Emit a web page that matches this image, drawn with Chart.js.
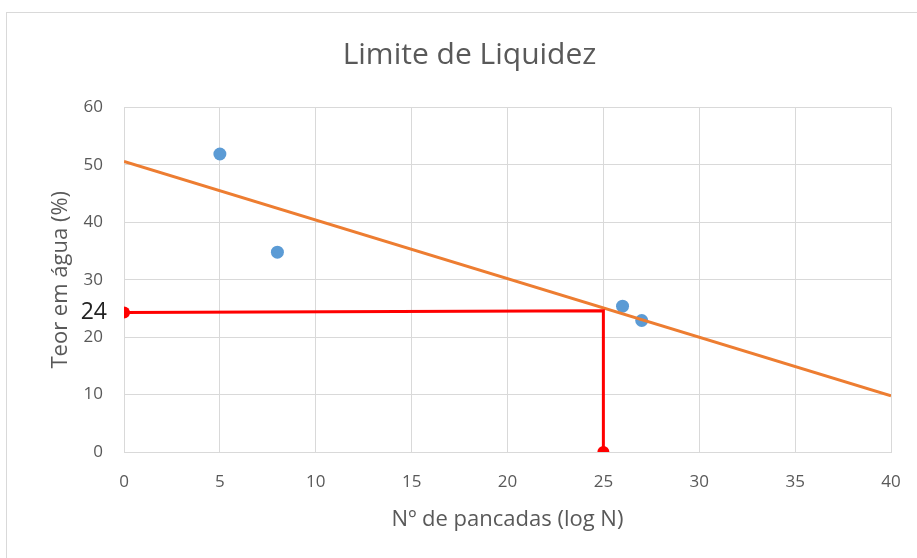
<!DOCTYPE html>
<html>
<head>
<meta charset="utf-8">
<script src="https://cdn.jsdelivr.net/npm/chart.js@4/dist/chart.umd.min.js"></script>
<style>
html,body{margin:0;padding:0;background:#fff;}
#wrap{position:relative;width:917px;height:558px;}
</style>
</head>
<body>
<div id="wrap"><canvas id="c" width="917" height="558"></canvas></div>
<script>
const chartTitle = "Limite de Liquidez";
const xAxisTitle = "Nº de pancadas (log N)";
const yAxisTitle = "Teor em água (%)";

const pointsX = [5, 8, 26, 27];
const pointsY = [51.9, 34.8, 25.4, 22.9];

const trendX = [0, 40];
const trendY = [50.6, 9.8];

const guideX = [0, 25, 25];
const guideY = [24.3, 24.6, 0];
const guideMarkerRadius = [6, 0, 6];

const guideLabel = "24";
const guideLabelValue = 24.3;

const xTicks = {min: 0, max: 40, step: 5};
const yTicks = {min: 0, max: 60, step: 10};

const FONT = "'Open Sans', 'Noto Sans', sans-serif";
const GRID = '#d9d9d9';
const TXT = '#595959';

const toXY = (xs, ys) => xs.map((x, i) => ({x: x, y: ys[i]}));

const borderPlugin = {
  id: 'frame',
  beforeDraw(chart) {
    const ctx = chart.ctx;
    ctx.save();
    ctx.fillStyle = '#fff';
    ctx.fillRect(0, 0, chart.width, chart.height);
    ctx.strokeStyle = '#d9d9d9';
    ctx.lineWidth = 1;
    ctx.strokeRect(6.5, 12.5, chart.width + 20, chart.height + 20);
    ctx.restore();
  }
};

const labelPlugin = {
  id: 'guideLabel',
  afterDraw(chart) {
    const ctx = chart.ctx;
    const y = chart.scales.y.getPixelForValue(guideLabelValue);
    ctx.save();
    ctx.font = "23px " + FONT;
    ctx.fillStyle = '#222';
    ctx.textAlign = 'right';
    ctx.textBaseline = 'middle';
    ctx.fillText(guideLabel, 107, y);
    ctx.restore();
  }
};

new Chart(document.getElementById('c'), {
  type: 'scatter',
  data: {
    datasets: [
      {
        label: 'Guia',
        data: toXY(guideX, guideY),
        showLine: true,
        borderColor: '#ff0000',
        backgroundColor: '#ff0000',
        borderWidth: 3,
        pointRadius: guideMarkerRadius,
        pointBorderWidth: 0,
        order: 0
      },
      {
        label: 'Tendência',
        data: toXY(trendX, trendY),
        showLine: true,
        borderColor: '#ed7d31',
        borderWidth: 3,
        pointRadius: 0,
        order: 1
      },
      {
        label: 'Ensaios',
        data: toXY(pointsX, pointsY),
        backgroundColor: '#5b9bd5',
        borderColor: '#5b9bd5',
        pointRadius: 6.5,
        pointBorderWidth: 0,
        order: 2
      }
    ]
  },
  plugins: [borderPlugin, labelPlugin],
  options: {
    responsive: false,
    animation: false,
    layout: {padding: {left: 48, right: 26, top: 0, bottom: 0}},
    plugins: {
      legend: {display: false},
      tooltip: {enabled: false},
      title: {
        display: true,
        text: chartTitle,
        color: TXT,
        font: {family: FONT, size: 30, weight: 'normal'},
        padding: {top: 37, bottom: 34.5}
      }
    },
    scales: {
      x: {
        type: 'linear',
        min: xTicks.min, max: xTicks.max,
        ticks: {stepSize: xTicks.step, color: TXT, font: {family: FONT, size: 17}, padding: 20, maxRotation: 0},
        grid: {color: GRID, drawTicks: false, lineWidth: 1},
        border: {color: GRID},
        title: {display: true, text: xAxisTitle, color: TXT, font: {family: FONT, size: 22}, padding: {top: 0, bottom: 25}},
        afterFit(s) { s.height = 106; s.paddingRight = 0; s.paddingLeft = 0; }
      },
      y: {
        type: 'linear',
        min: yTicks.min, max: yTicks.max,
        ticks: {stepSize: yTicks.step, color: TXT, font: {family: FONT, size: 17}, padding: 21},
        grid: {color: GRID, drawTicks: false, lineWidth: 1},
        border: {color: GRID},
        title: {display: true, text: yAxisTitle, color: TXT, font: {family: FONT, size: 22}, padding: {top: 0, bottom: 0}},
        afterFit(s) { s.width = 76; }
      }
    }
  }
});
</script>
</body>
</html>
